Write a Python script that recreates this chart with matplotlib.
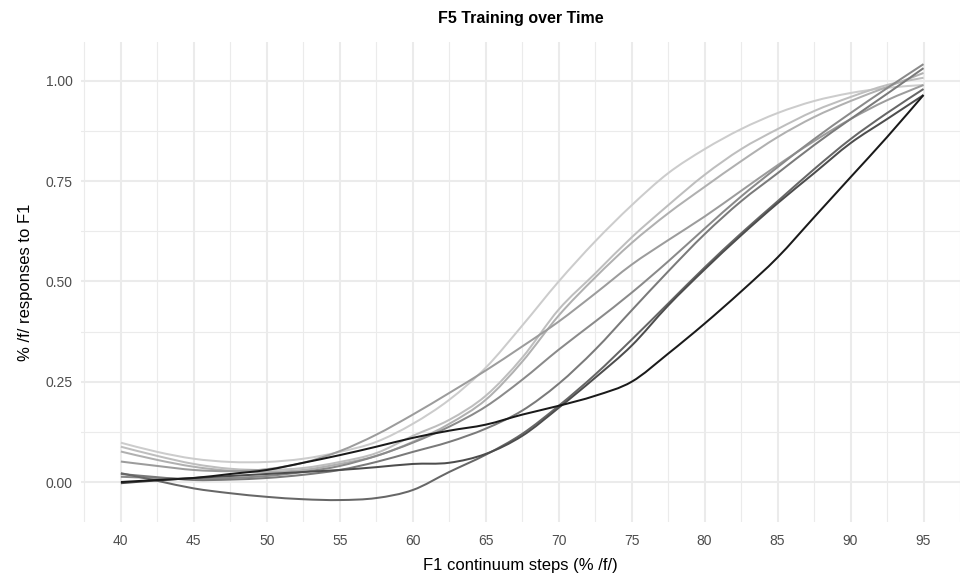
import numpy as np
import matplotlib.pyplot as plt
from matplotlib.path import Path
from matplotlib.patches import PathPatch

# F1 continuum steps (% /f/)
steps = [40, 42.5, 45, 47.5, 50, 52.5, 55, 57.5, 60, 62.5, 65, 67.5,
         70, 72.5, 75, 77.5, 80, 82.5, 85, 87.5, 90, 92.5, 95]

# smoothed % /f/ responses, one curve per training block
block_1 = [0.000, 0.005, 0.010, 0.020, 0.030, 0.048, 0.067, 0.088, 0.110, 0.128, 0.143, 0.168,
           0.190, 0.215, 0.250, 0.320, 0.395, 0.475, 0.560, 0.660, 0.760, 0.860, 0.965]
block_2 = [-0.003, 0.004, 0.010, 0.015, 0.020, 0.025, 0.030, 0.037, 0.045, 0.048, 0.070, 0.115,
           0.185, 0.260, 0.340, 0.440, 0.530, 0.615, 0.695, 0.770, 0.845, 0.905, 0.965]
block_3 = [0.022, 0.003, -0.016, -0.028, -0.037, -0.043, -0.045, -0.040, -0.020, 0.025, 0.068, 0.120,
           0.190, 0.268, 0.355, 0.445, 0.535, 0.620, 0.700, 0.780, 0.855, 0.920, 0.980]
block_4 = [0.020, 0.012, 0.005, 0.006, 0.010, 0.018, 0.030, 0.050, 0.075, 0.100, 0.133, 0.178,
           0.245, 0.330, 0.428, 0.525, 0.618, 0.700, 0.770, 0.840, 0.905, 0.968, 1.032]
block_5 = [0.013, 0.010, 0.008, 0.010, 0.015, 0.025, 0.040, 0.065, 0.098, 0.138, 0.188, 0.255,
           0.330, 0.400, 0.472, 0.550, 0.632, 0.712, 0.785, 0.855, 0.920, 0.982, 1.042]
block_6 = [0.051, 0.040, 0.030, 0.027, 0.032, 0.048, 0.077, 0.118, 0.168, 0.222, 0.278, 0.338,
           0.400, 0.470, 0.542, 0.603, 0.662, 0.726, 0.790, 0.850, 0.905, 0.952, 0.990]
block_7 = [0.076, 0.055, 0.038, 0.028, 0.025, 0.030, 0.045, 0.065, 0.100, 0.145, 0.205, 0.300,
           0.415, 0.510, 0.596, 0.670, 0.736, 0.800, 0.860, 0.910, 0.950, 0.985, 1.020]
block_8 = [0.088, 0.065, 0.045, 0.033, 0.030, 0.035, 0.050, 0.072, 0.115, 0.155, 0.215, 0.310,
           0.430, 0.520, 0.610, 0.690, 0.766, 0.830, 0.880, 0.925, 0.960, 0.990, 1.008]
block_9 = [0.098, 0.075, 0.058, 0.050, 0.050, 0.058, 0.075, 0.100, 0.145, 0.205, 0.285, 0.390,
           0.500, 0.600, 0.690, 0.770, 0.830, 0.880, 0.920, 0.950, 0.970, 0.983, 0.990]

blocks = [block_1, block_2, block_3, block_4, block_5, block_6, block_7, block_8, block_9]
greys = ["#1a1a1a", "#4d4d4d", "#676767", "#7a7a7a", "#8a8a8a",
         "#9c9c9c", "#b0b0b0", "#bebebe", "#cccccc"]

x_ticks = [40, 45, 50, 55, 60, 65, 70, 75, 80, 85, 90, 95]
y_ticks = [0.00, 0.25, 0.50, 0.75, 1.00]


def smooth_path(xs, ys):
    """Bezier path through the read points (Catmull-Rom tangents), so the
    curves come out round like the loess lines of the original."""
    p = np.column_stack([xs, ys]).astype(float)
    ext = np.vstack([p[0], p, p[-1]])
    verts = [p[0]]
    codes = [Path.MOVETO]
    for i in range(len(p) - 1):
        p0, p1, p2, p3 = ext[i], ext[i + 1], ext[i + 2], ext[i + 3]
        verts += [p1 + (p2 - p0) / 6.0, p2 - (p3 - p1) / 6.0, p2]
        codes += [Path.CURVE4] * 3
    return Path(verts, codes)


plt.rcParams['font.family'] = ['Liberation Sans', 'DejaVu Sans']

fig = plt.figure(figsize=(9.6, 5.78), dpi=100)
ax = fig.add_axes([0.0841, 0.0974, 0.9159, 0.8291])

# light greys underneath, darkest curve on top
for vals, col in reversed(list(zip(blocks, greys))):
    ax.add_patch(PathPatch(smooth_path(steps, vals), fill=False, edgecolor=col,
                           linewidth=1.45, capstyle='butt', zorder=3))

ax.set_xlim(37.25, 97.23)
ax.set_ylim(-0.099, 1.096)

ax.set_xticks(x_ticks)
ax.set_xticklabels([str(t) for t in x_ticks])
ax.set_yticks(y_ticks)
ax.set_yticklabels([f"{t:.2f}" for t in y_ticks])
ax.set_xticks(np.arange(37.5, 98, 5.0), minor=True)
ax.set_yticks([0.125, 0.375, 0.625, 0.875], minor=True)

# theme_minimal look
ax.grid(which='major', color='#ebebeb', linewidth=1.5, zorder=0)
ax.grid(which='minor', color='#ebebeb', linewidth=0.8, zorder=0)
ax.set_axisbelow(True)
for s in ax.spines.values():
    s.set_visible(False)
ax.tick_params(which='both', length=0, labelsize=10, labelcolor='#4d4d4d')
ax.tick_params(axis='x', pad=9)
ax.tick_params(axis='y', pad=6)

ax.set_xlabel("F1 continuum steps (% /f/)", fontsize=12, labelpad=7)
ax.set_ylabel("% /f/ responses to F1", fontsize=12, labelpad=9)
ax.set_title("F5 Training over Time", fontsize=11.5, fontweight='bold', pad=14)

fig.savefig("out.png", dpi=100, facecolor='white')
